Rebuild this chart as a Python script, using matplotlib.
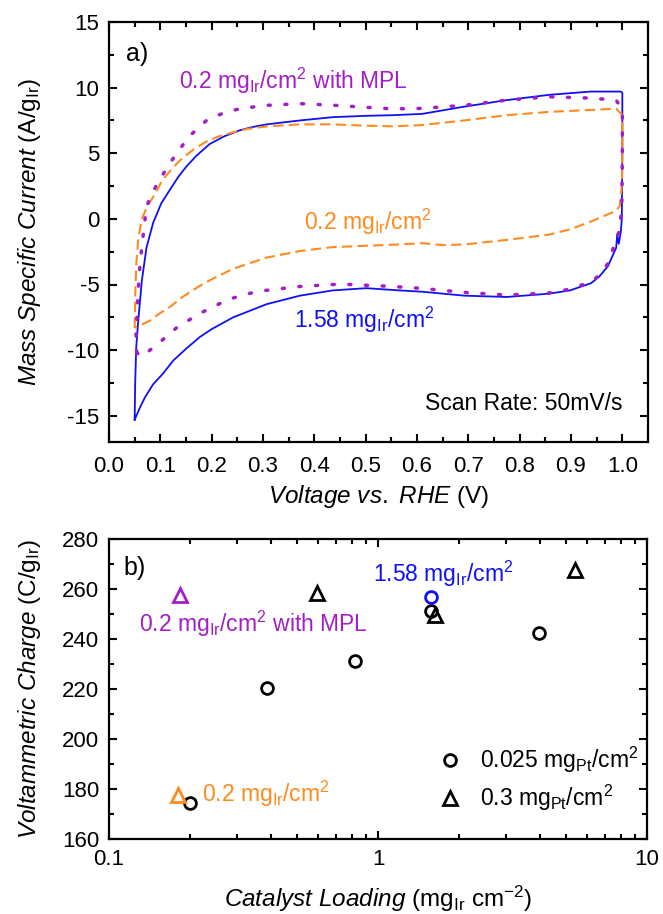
import matplotlib
matplotlib.use('Agg')
import matplotlib.pyplot as plt
from matplotlib.ticker import MultipleLocator, LogLocator, NullFormatter, FixedLocator, FixedFormatter

plt.rcParams['font.family'] = ['Liberation Sans', 'DejaVu Sans']
plt.rcParams['mathtext.fontset'] = 'custom'
plt.rcParams['mathtext.rm'] = 'Liberation Sans'
plt.rcParams['mathtext.it'] = 'Liberation Sans:italic'
plt.rcParams['mathtext.bf'] = 'Liberation Sans:bold'

BLUE = '#1010F5'
ORANGE = '#FF8A1E'
PURPLE = '#A31EC6'

# cyclic voltammograms, 50 mV/s (V vs RHE, A/g_Ir)
cv_158_v = [0.050, 0.051, 0.053, 0.057, 0.064, 0.073, 0.086, 0.102, 0.120, 0.135, 0.151,
            0.170, 0.196, 0.225, 0.255, 0.280, 0.307, 0.372, 0.436, 0.500, 0.553, 0.610,
            0.692, 0.775, 0.857, 0.939, 0.997, 1.000, 1.000, 0.999, 0.997, 0.993, 0.990,
            0.988, 0.980, 0.972, 0.955, 0.939, 0.898, 0.857, 0.775, 0.692, 0.610, 0.566,
            0.501, 0.436, 0.372, 0.307, 0.242, 0.200, 0.177, 0.150, 0.125, 0.105, 0.086,
            0.070, 0.060, 0.050]
cv_158_i = [-15.3, -12.5, -9.8, -7.75, -4.7, -2.2, -0.3, 1.2, 2.3, 3.2, 4.0,
            4.8, 5.7, 6.3, 6.75, 7.0, 7.2, 7.5, 7.75, 7.85, 7.9, 8.0,
            8.55, 9.05, 9.45, 9.7, 9.7, 9.6, 5.0, 0.0, -1.0, -1.9, -1.2,
            -2.2, -2.9, -3.6, -4.4, -4.9, -5.45, -5.7, -5.95, -5.85, -5.55, -5.45,
            -5.28, -5.45, -5.85, -6.5, -7.5, -8.4, -9.0, -9.9, -10.8, -11.8, -12.6,
            -13.6, -14.4, -15.3]

cv_02_v = [0.050, 0.051, 0.053, 0.057, 0.064, 0.075, 0.090, 0.103, 0.120, 0.138, 0.165,
           0.190, 0.215, 0.242, 0.270, 0.307, 0.372, 0.436, 0.500, 0.553, 0.610, 0.692,
           0.775, 0.857, 0.939, 0.988, 1.000, 1.000, 0.999, 0.995, 0.988, 0.972, 0.939,
           0.898, 0.857, 0.775, 0.692, 0.651, 0.610, 0.566, 0.500, 0.436, 0.372, 0.307,
           0.242, 0.205, 0.177, 0.145, 0.119, 0.095, 0.080, 0.050]
cv_02_i = [-8.3, -6.0, -3.5, -1.5, 0.0, 1.0, 1.9, 2.9, 3.7, 4.45, 5.3,
           5.9, 6.3, 6.6, 6.85, 7.05, 7.2, 7.2, 7.1, 7.05, 7.15, 7.5,
           7.9, 8.15, 8.3, 8.4, 7.9, 5.0, 2.5, 1.0, 0.6, 0.35, -0.2,
           -0.8, -1.2, -1.6, -1.95, -2.0, -1.85, -1.95, -2.05, -2.15, -2.45, -2.95,
           -3.8, -4.5, -5.1, -5.9, -6.7, -7.3, -7.75, -8.3]

cv_mpl_v = [0.054, 0.0525, 0.055, 0.057, 0.060, 0.064, 0.073, 0.082, 0.096, 0.106, 0.1315,
            0.158, 0.190, 0.222, 0.255, 0.307, 0.372, 0.436, 0.501, 0.553, 0.610, 0.692,
            0.775, 0.857, 0.939, 0.988, 1.000, 1.000, 0.999, 0.995, 0.988, 0.972, 0.955,
            0.939, 0.898, 0.857, 0.775, 0.692, 0.610, 0.553, 0.469, 0.436, 0.372, 0.294,
            0.260, 0.229, 0.177, 0.1315, 0.096, 0.0636, 0.054]
cv_mpl_i = [-10.2, -8.75, -7.0, -5.4, -3.7, -2.1, 0.9, 1.8, 2.8, 3.45, 5.0,
            6.35, 7.5, 8.05, 8.4, 8.65, 8.78, 8.66, 8.5, 8.38, 8.42, 8.65,
            9.05, 9.3, 9.2, 9.05, 8.3, 5.0, 1.0, -0.8, -1.6, -3.4, -4.3,
            -4.8, -5.35, -5.65, -5.8, -5.6, -5.3, -5.15, -5.0, -5.0, -5.15, -5.5,
            -5.8, -6.2, -7.2, -8.3, -9.5, -10.5, -10.2]

# voltammetric charge vs catalyst loading
pt025_load = [0.20, 0.386, 0.82, 1.58, 3.96]
pt025_q = [174.4, 220.3, 231.2, 251.3, 242.3]
pt03_load = [0.594, 1.63, 5.42]
pt03_q = [258.5, 249.6, 267.5]
ir158_load, ir158_q = [1.58], [257.0]
mpl_load, mpl_q = [0.184], [257.7]
ir02_load, ir02_q = [0.18], [177.7]

W, H = 663, 914
fig = plt.figure(figsize=(W / 100, H / 100), dpi=100)

TICK_FS = 16
LABEL_FS = 17.5
NOTE_FS = 16.5


def frame(ax, xpad):
    for s in ax.spines.values():
        s.set_linewidth(1.6)
    ax.tick_params(which='both', direction='in', top=True, right=True, width=1.5,
                   labelsize=TICK_FS)
    ax.tick_params(which='major', length=6)
    ax.tick_params(which='minor', length=3.5)
    ax.tick_params(axis='x', pad=xpad)
    ax.tick_params(axis='y', pad=7)


# ---- a) CV curves
ax1 = fig.add_axes([109 / W, 1 - 442 / H, 539 / W, 420 / H])
ax1.plot(cv_158_v, cv_158_i, color=BLUE, lw=1.3)
ax1.plot(cv_02_v, cv_02_i, color=ORANGE, lw=1.5, linestyle=(0, (5, 2.5)))
ax1.plot(cv_mpl_v, cv_mpl_i, color=PURPLE, lw=2.5, linestyle=(0, (0.6, 4.2)),
         dash_capstyle='round')
ax1.set_xlim(0, 1.05)
ax1.set_ylim(-17, 15)
ax1.xaxis.set_major_locator(MultipleLocator(0.1))
ax1.xaxis.set_minor_locator(MultipleLocator(0.05))
ax1.yaxis.set_major_locator(MultipleLocator(5))
ax1.yaxis.set_minor_locator(MultipleLocator(2.5))
ax1.xaxis.set_major_formatter(plt.FuncFormatter(lambda v, p: f'{v:.1f}'))
ax1.yaxis.set_major_formatter(plt.FuncFormatter(lambda v, p: f'{v:.0f}'))
frame(ax1, 10)
ax1.set_xlabel(r'$\mathit{Voltage\ vs.\ RHE}$ (V)', fontsize=LABEL_FS)
ax1.set_ylabel(r'$\mathit{Mass\ Specific\ Current}$ (A/g$_{\mathrm{Ir}}$)', fontsize=LABEL_FS)
ax1.xaxis.set_label_coords(0.5, -0.098)
ax1.yaxis.set_label_coords(-0.122, 0.5)

ax1.text(0.033, 12.6, 'a)', fontsize=18, va='center')
ax1.text(0.36, 10.5, r'0.2 mg$_{\mathrm{Ir}}$/cm$^{2}$ with MPL', color=PURPLE,
         fontsize=NOTE_FS, ha='center', va='center')
ax1.text(0.505, -0.2, r'0.2 mg$_{\mathrm{Ir}}$/cm$^{2}$', color=ORANGE,
         fontsize=NOTE_FS, ha='center', va='center')
ax1.text(0.497, -7.7, r'1.58 mg$_{\mathrm{Ir}}$/cm$^{2}$', color=BLUE,
         fontsize=NOTE_FS, ha='center', va='center')
ax1.text(1.0, -14.1, 'Scan Rate: 50mV/s', fontsize=NOTE_FS, ha='right', va='center')

# ---- b) voltammetric charge
ax2 = fig.add_axes([109 / W, 1 - 839 / H, 538 / W, 300 / H])
mk = dict(linestyle='none', mfc='none', mew=2.0)
ax2.plot(pt025_load, pt025_q, marker='o', ms=8.5, mec='black',
         label=r'0.025 mg$_{\mathrm{Pt}}$/cm$^{2}$', **mk)
ax2.plot(pt03_load, pt03_q, marker='^', ms=9.5, mec='black',
         label=r'0.3 mg$_{\mathrm{Pt}}$/cm$^{2}$', **mk)
ax2.plot(ir158_load, ir158_q, marker='o', ms=8.5, mec=BLUE, **mk)
ax2.plot(mpl_load, mpl_q, marker='^', ms=9.5, mec=PURPLE, **mk)
ax2.plot(ir02_load, ir02_q, marker='^', ms=9.5, mec=ORANGE, **mk)
ax2.set_xscale('log')
ax2.set_xlim(0.1, 10)
ax2.set_ylim(160, 280)
ax2.xaxis.set_major_locator(FixedLocator([0.1, 1, 10]))
ax2.xaxis.set_major_formatter(FixedFormatter(['0.1', '1', '10']))
ax2.xaxis.set_minor_locator(LogLocator(base=10, subs=range(2, 10)))
ax2.xaxis.set_minor_formatter(NullFormatter())
ax2.yaxis.set_major_locator(MultipleLocator(20))
ax2.yaxis.set_minor_locator(MultipleLocator(10))
frame(ax2, 7)
ax2.set_xlabel(r'$\mathit{Catalyst\ Loading}$ (mg$_{\mathrm{Ir}}$ cm$^{-2}$)', fontsize=LABEL_FS)
ax2.set_ylabel(r'$\mathit{Voltammetric\ Charge}$ (C/g$_{\mathrm{Ir}}$)', fontsize=LABEL_FS)
ax2.xaxis.set_label_coords(0.5, -0.148)
ax2.yaxis.set_label_coords(-0.122, 0.5)

ax2.text(0.113, 268.4, 'b)', fontsize=18, va='center')
ax2.text(0.96, 266.0, r'1.58 mg$_{\mathrm{Ir}}$/cm$^{2}$', color=BLUE, fontsize=NOTE_FS,
         va='center')
ax2.text(0.129, 246.0, r'0.2 mg$_{\mathrm{Ir}}$/cm$^{2}$ with MPL', color=PURPLE,
         fontsize=NOTE_FS, va='center')
ax2.text(0.222, 178.0, r'0.2 mg$_{\mathrm{Ir}}$/cm$^{2}$', color=ORANGE, fontsize=NOTE_FS,
         va='center')
ax2.legend(loc='lower right', bbox_to_anchor=(1.01, 0.04), frameon=False, fontsize=NOTE_FS,
           handletextpad=0.8, labelspacing=0.35, handlelength=1.0, borderaxespad=0.2)

fig.savefig('out.png', dpi=100)
